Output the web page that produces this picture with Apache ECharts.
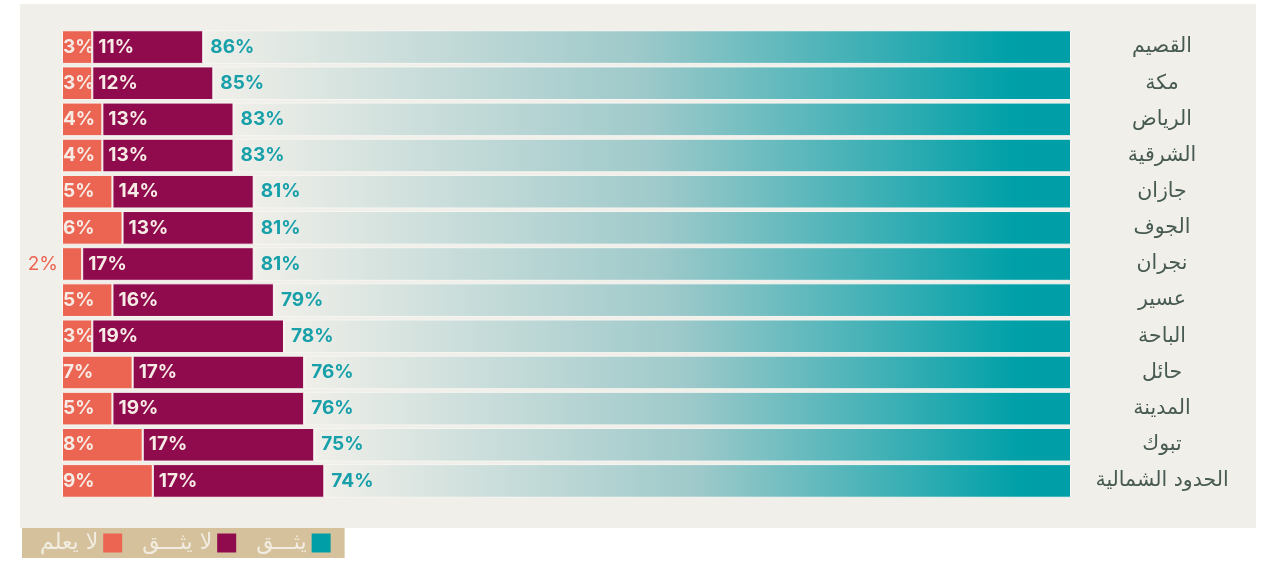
<!DOCTYPE html>
<html lang="ar" style="height: 100%">
<head>
  <meta charset="UTF-8">
  <title>الثقة حسب المنطقة</title>
  <script src="https://cdn.jsdelivr.net/npm/echarts@6/dist/echarts.min.js"></script>
</head>
<body style="height: 100%; margin: 0; background: #ffffff;">
  <div id="main" style="width: 1282px; height: 563px;"></div>

  <script>
  // المناطق من الأعلى إلى الأسفل
  const regions = ['القصيم', 'مكة', 'الرياض', 'الشرقية', 'جازان', 'الجوف', 'نجران', 'عسير', 'الباحة', 'حائل', 'المدينة', 'تبوك', 'الحدود الشمالية'];
  const dontKnow = [3, 3, 4, 4, 5, 6, 2, 5, 3, 7, 5, 8, 9];
  const distrust = [11, 12, 13, 13, 14, 13, 17, 16, 19, 17, 19, 17, 17];
  const trust = [86, 85, 83, 83, 81, 81, 81, 79, 78, 76, 76, 75, 74];
  const seriesNames = ['لا يعلم', 'لا يثـــق', 'يثـــق'];

  const chart = echarts.init(document.getElementById('main'));
  const labelFont = 'Inter, "Open Sans", sans-serif';
  const gap = { borderColor: '#f7f6f2', borderWidth: 1 };

  const option = {
    backgroundColor: '#ffffff',
    animation: false,
    graphic: [{
      type: 'rect',
      left: 20, top: 4,
      shape: { width: 1236, height: 524 },
      style: { fill: '#f0efe9' },
      z: -10
    }],
    grid: { left: 62, right: 211, top: 29, bottom: 64 },
    xAxis: { type: 'value', min: 0, max: 100, show: false },
    yAxis: {
      type: 'category',
      data: regions,
      inverse: true,
      position: 'right',
      axisLine: { show: false },
      axisTick: { show: false },
      axisLabel: {
        align: 'center',
        margin: 91,
        color: '#475a52',
        fontSize: 20.5,
        padding: [4, 0, 0, 0],
        fontFamily: '"DejaVu Sans", sans-serif'
      }
    },
    legend: {
      left: 22, bottom: 5,
      data: [
        { name: seriesNames[0], itemStyle: { color: '#ec6452', borderWidth: 0 } },
        { name: seriesNames[1], itemStyle: { color: '#900a4e', borderWidth: 0 } },
        { name: seriesNames[2], itemStyle: { color: '#009ea6', borderWidth: 0 } }
      ],
      align: 'right',
      icon: 'rect',
      itemWidth: 19, itemHeight: 19,
      itemGap: 20,
      padding: [4, 14, 4, 18],
      backgroundColor: '#d5c29c',
      textStyle: { color: '#f2ede2', fontSize: 22, fontFamily: '"DejaVu Sans", sans-serif' }
    },
    series: [
      {
        name: seriesNames[0],
        type: 'bar',
        stack: 'all',
        barCategoryGap: '7%',
        itemStyle: Object.assign({ color: '#ec6452' }, gap),
        label: {
          show: true,
          position: 'insideLeft',
          distance: 1,
          formatter: '{c}%',
          color: '#f7ebe5',
          fontSize: 19,
          fontWeight: 'bold',
          fontFamily: labelFont
        },
        data: dontKnow.map(v => v <= 2 ? {
          value: v,
          label: { position: 'left', distance: 4, color: '#ec6452', fontWeight: 'normal' }
        } : v)
      },
      {
        name: seriesNames[1],
        type: 'bar',
        stack: 'all',
        itemStyle: Object.assign({ color: '#900a4e' }, gap),
        label: {
          show: true,
          position: 'insideLeft',
          distance: 6,
          formatter: '{c}%',
          color: '#f7ebe5',
          fontSize: 19,
          fontWeight: 'bold',
          fontFamily: labelFont
        },
        data: distrust
      },
      {
        name: seriesNames[2],
        type: 'bar',
        stack: 'all',
        itemStyle: Object.assign({
          color: new echarts.graphic.LinearGradient(0, 0, 1, 0, [
            { offset: 0, color: '#f0efe9' },
            { offset: 0.5, color: '#9ec9ca' },
            { offset: 0.93, color: '#00a0a8' },
            { offset: 1, color: '#009ea6' }
          ])
        }, gap),
        label: {
          show: true,
          position: 'insideLeft',
          distance: 7,
          formatter: '{c}%',
          color: '#17a0a9',
          fontSize: 19,
          fontWeight: 'bold',
          fontFamily: labelFont
        },
        data: trust
      }
    ]
  };

  chart.setOption(option);
  </script>
</body>
</html>
